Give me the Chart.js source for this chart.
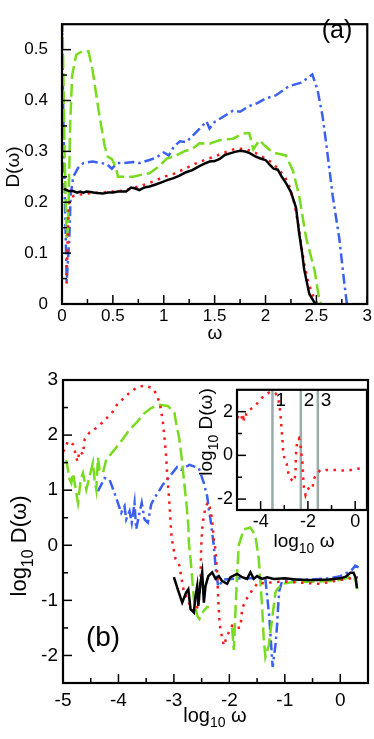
<!DOCTYPE html>
<html>
<head>
<meta charset="utf-8">
<script src="https://cdn.jsdelivr.net/npm/chart.js"></script>
<style>
  html, body { margin: 0; padding: 0; background: #fff; }
  #wrap { position: relative; width: 374px; height: 739px; }
  canvas { position: absolute; }
</style>
</head>
<body>
<div id="wrap">
  <canvas id="chartA" width="374" height="345" style="left:0;top:0"></canvas>
  <canvas id="chartB" width="374" height="379" style="left:0;top:360px"></canvas>
  <canvas id="chartInset" width="184" height="185" style="left:190px;top:375px"></canvas>
</div>
<script>
// panel (a): D(omega)
const blackAX = [0.02, 0.03, 0.07, 0.11, 0.15, 0.18, 0.21, 0.24, 0.28, 0.31, 0.35, 0.40, 0.45, 0.50, 0.55, 0.60, 0.63, 0.68, 0.72, 0.76, 0.81, 0.86, 0.92, 0.99, 1.04, 1.09, 1.15, 1.22, 1.28, 1.35, 1.40, 1.45, 1.50, 1.55, 1.60, 1.65, 1.70, 1.75, 1.80, 1.85, 1.90, 1.95, 2.00, 2.05, 2.08, 2.12, 2.16, 2.20, 2.25, 2.30, 2.33, 2.36, 2.38, 2.43, 2.48, 2.50];
const blackAY = [0.227, 0.225, 0.222, 0.222, 0.219, 0.221, 0.219, 0.221, 0.220, 0.219, 0.218, 0.217, 0.219, 0.219, 0.221, 0.221, 0.221, 0.229, 0.227, 0.224, 0.229, 0.231, 0.235, 0.240, 0.244, 0.247, 0.252, 0.259, 0.263, 0.271, 0.276, 0.280, 0.281, 0.285, 0.293, 0.296, 0.299, 0.301, 0.300, 0.296, 0.290, 0.286, 0.283, 0.272, 0.266, 0.264, 0.250, 0.238, 0.220, 0.189, 0.140, 0.100, 0.068, 0.020, 0.003, 0];
const redAX = [0.045, 0.055, 0.065, 0.08, 0.12, 0.2, 0.3, 0.4, 0.5, 0.6, 0.7, 0.8, 0.9, 1.0, 1.1, 1.2, 1.3, 1.4, 1.5, 1.6, 1.7, 1.8, 1.9, 2.0, 2.07, 2.14, 2.19, 2.235, 2.28, 2.32, 2.35, 2.38, 2.41, 2.45, 2.48, 2.51];
const redAY = [0.04, 0.12, 0.19, 0.208, 0.213, 0.216, 0.218, 0.219, 0.221, 0.223, 0.228, 0.234, 0.241, 0.250, 0.256, 0.265, 0.275, 0.283, 0.290, 0.298, 0.305, 0.305, 0.297, 0.286, 0.277, 0.262, 0.250, 0.231, 0.200, 0.159, 0.116, 0.080, 0.050, 0.025, 0.010, 0];
const greenAX = [0.005, 0.025, 0.045, 0.06, 0.08, 0.1, 0.14, 0.2, 0.26, 0.3, 0.36, 0.42, 0.45, 0.49, 0.53, 0.55, 0.6, 0.7, 0.8, 0.86, 0.95, 1.03, 1.1, 1.2, 1.28, 1.35, 1.45, 1.55, 1.68, 1.78, 1.84, 1.88, 1.94, 2.0, 2.07, 2.2, 2.27, 2.33, 2.4, 2.48, 2.53, 2.55];
const greenAY = [0.56, 0.30, 0.13, 0.15, 0.35, 0.45, 0.49, 0.497, 0.497, 0.46, 0.38, 0.31, 0.289, 0.285, 0.268, 0.25, 0.25, 0.25, 0.255, 0.257, 0.27, 0.286, 0.29, 0.30, 0.305, 0.316, 0.315, 0.322, 0.325, 0.335, 0.336, 0.304, 0.322, 0.31, 0.298, 0.292, 0.262, 0.213, 0.129, 0.068, 0.007, 0];
const blueAX = [0.0, 0.013, 0.03, 0.046, 0.072, 0.085, 0.11, 0.16, 0.21, 0.3, 0.36, 0.44, 0.49, 0.54, 0.6, 0.7, 0.76, 0.86, 0.93, 1.0, 1.05, 1.1, 1.16, 1.22, 1.28, 1.35, 1.42, 1.45, 1.5, 1.6, 1.68, 1.75, 1.84, 1.92, 2.0, 2.1, 2.23, 2.35, 2.46, 2.51, 2.56, 2.6, 2.66, 2.725, 2.775, 2.8];
const blueAY = [0.56, 0.37, 0.19, 0.044, 0.129, 0.213, 0.25, 0.268, 0.277, 0.28, 0.278, 0.275, 0.266, 0.277, 0.277, 0.279, 0.277, 0.283, 0.288, 0.298, 0.292, 0.31, 0.32, 0.318, 0.33, 0.344, 0.359, 0.345, 0.358, 0.37, 0.38, 0.378, 0.389, 0.395, 0.404, 0.41, 0.428, 0.435, 0.451, 0.422, 0.37, 0.31, 0.213, 0.129, 0.04, 0.0];

// panel (b): log10 D vs log10 omega
const blackBX = [-3.0, -2.93, -2.85, -2.78, -2.74, -2.7, -2.64, -2.61, -2.58, -2.56, -2.52, -2.49, -2.46, -2.43, -2.38, -2.31, -2.25, -2.19, -2.13, -2.04, -1.98, -1.86, -1.77, -1.68, -1.62, -1.56, -1.5, -1.41, -1.32, -1.2, -1.0, -0.8, -0.6, -0.4, -0.2, 0.0, 0.1, 0.18, 0.24, 0.28, 0.3];
const blackBY = [-0.58, -0.8, -1.04, -0.86, -0.8, -1.16, -1.22, -0.92, -0.74, -1.1, -0.67, -0.49, -1.04, -0.74, -0.56, -0.49, -0.61, -0.56, -0.65, -0.7, -0.58, -0.52, -0.58, -0.61, -0.49, -0.61, -0.56, -0.61, -0.58, -0.61, -0.6, -0.62, -0.63, -0.63, -0.62, -0.6, -0.57, -0.5, -0.5, -0.6, -0.78];
const redBX = [-5.0, -4.97, -4.91, -4.82, -4.78, -4.74, -4.70, -4.64, -4.61, -4.52, -4.40, -4.30, -4.19, -4.10, -4.01, -3.90, -3.80, -3.66, -3.53, -3.38, -3.30, -3.25, -3.20, -3.17, -3.14, -3.12, -3.09, -3.07, -3.05, -3.02, -2.97, -2.90, -2.87, -2.82, -2.76, -2.67, -2.60, -2.55, -2.52, -2.51, -2.49, -2.46, -2.42, -2.38, -2.33, -2.30, -2.28, -2.25, -2.24, -2.22, -2.20, -2.18, -2.16, -2.13, -2.10, -2.04, -1.95, -1.89, -1.80, -1.77, -1.71, -1.65, -1.57, -1.47, -1.35, -1.23, -1.0, -0.7, -0.37, 0.0, 0.32];
const redBY = [1.70, 1.74, 1.89, 1.83, 1.68, 1.52, 1.71, 1.65, 1.92, 2.05, 2.13, 2.22, 2.33, 2.43, 2.58, 2.67, 2.77, 2.87, 2.90, 2.85, 2.71, 2.55, 2.25, 1.95, 1.61, 1.25, 0.89, 0.59, 0.23, 0.0, -0.25, -0.37, -0.56, -0.85, -0.98, -1.16, -1.21, -1.0, -0.67, -0.07, 0.3, 0.55, 0.72, 0.78, 0.6, 0.35, 0.08, -0.07, -0.22, -0.5, -1.0, -1.34, -1.55, -1.67, -1.82, -1.64, -1.46, -1.51, -1.49, -1.16, -1.0, -0.92, -0.78, -0.67, -0.7, -0.67, -0.66, -0.68, -0.7, -0.63, -0.58];
const greenBX = [-4.94, -4.91, -4.88, -4.85, -4.82, -4.78, -4.73, -4.68, -4.64, -4.58, -4.52, -4.46, -4.43, -4.40, -4.37, -4.34, -4.28, -4.22, -4.10, -3.95, -3.80, -3.68, -3.53, -3.41, -3.26, -3.11, -2.99, -2.96, -2.90, -2.85, -2.82, -2.77, -2.74, -2.73, -2.70, -2.67, -2.64, -2.58, -2.54, -2.47, -2.40, -2.37, -2.3, -1.95, -1.92, -1.89, -1.86, -1.83, -1.74, -1.62, -1.53, -1.47, -1.41, -1.38, -1.35, -1.29, -1.23, -1.17, -1.14, -1.05, -0.8, -0.5, -0.2, 0.0, 0.15, 0.22, 0.27, 0.31];
const greenBY = [1.55, 1.37, 1.19, 1.13, 1.31, 1.07, 0.77, 1.19, 1.31, 1.01, 1.25, 1.50, 1.19, 1.01, 1.59, 1.37, 1.31, 1.56, 1.70, 1.89, 2.10, 2.22, 2.40, 2.49, 2.55, 2.53, 2.40, 2.22, 1.92, 1.50, 1.19, 0.71, 0.35, 0.05, -0.25, -0.61, -0.98, -1.28, -1.34, -1.2, -1.12, -1.13, null, -1.5, -1.9, -1.2, -0.5, 0.0, 0.29, 0.32, 0.17, -0.25, -1.1, -1.7, -2.03, -1.82, -1.34, -0.86, -0.8, -0.7, -0.66, -0.66, -0.65, -0.63, -0.58, -0.56, -0.62, -0.8];
const blueBX = [-4.37, -4.25, -4.16, -4.04, -3.98, -3.95, -3.89, -3.86, -3.80, -3.76, -3.71, -3.68, -3.62, -3.58, -3.53, -3.47, -3.41, -3.35, -3.29, -3.20, -3.12, -3.03, -2.94, -2.87, -2.72, -2.55, -2.46, -2.40, -2.37, -2.34, -2.31, -2.28, -2.26, -2.24, -2.2, -2.1, -1.8, -1.5, -1.35, -1.28, -1.22, -1.17, -1.14, -1.12, -1.1, -1.05, -0.8, -0.5, -0.2, 0.0, 0.2, 0.27, 0.33];
const blueBY = [0.98, 1.22, 1.19, 0.86, 0.68, 0.59, 0.71, 0.47, 0.62, 0.41, 0.77, 0.29, 0.59, 0.77, 0.47, 0.41, 0.74, 0.86, 0.95, 1.10, 1.19, 1.31, 1.42, 1.37, 1.46, 1.40, 1.13, 0.89, 0.65, 0.47, 0.23, -0.01, -0.25, -0.49, -0.75, -0.62, -0.6, -0.6, -0.62, -1.3, -2.21, -1.82, -1.46, -1.1, -0.83, -0.65, -0.62, -0.62, -0.6, -0.56, -0.46, -0.37, -0.4];

// inset: vertical markers
const markerX = [-3.5, -2.3, -1.58];
const markerLabels = ['1', '2', '3'];

// tick positions
const aXMajor = [0, 0.5, 1, 1.5, 2, 2.5, 3];
const aXMinor = [0.25, 0.75, 1.25, 1.75, 2.25, 2.75];
const aYMajor = [0, 0.1, 0.2, 0.3, 0.4, 0.5];
const aYMinor = [0.05, 0.15, 0.25, 0.35, 0.45];
const bXMajor = [-5, -4, -3, -2, -1, 0];
const bXMinor = [-4.5, -3.5, -2.5, -1.5, -0.5];
const bYMajor = [-2, -1, 0, 1, 2, 3];
const bYMinor = [-1.5, -0.5, 0.5, 1.5, 2.5];
const iXMajor = [-4, -2, 0];
const iXMinor = [-3, -1];
const iYMajor = [-2, 0, 2];
const iYMinor = [-1, 1];

const FONT = "'Liberation Sans', Arial, sans-serif";
const BLACK = '#000000', RED = '#ff1a1a', GREEN = '#78dc1e', BLUE = '#3a60f0', GRAY = '#9aabab';

function pts(xs, ys) { return xs.map((x, i) => ({ x: x, y: ys[i] })); }

function lineSet(data, color, dash, width) {
  return { data: data, borderColor: color, borderDash: dash, borderWidth: width || 2.5,
    pointRadius: 0, fill: false, tension: 0, spanGaps: false };
}

const fmt = v => String(Math.round(v * 100) / 100);

function axis(min, max, major, size, pad, fontSize) {
  return {
    type: 'linear', min: min, max: max,
    grid: { display: false, drawTicks: false }, border: { display: false },
    afterBuildTicks: s => { s.ticks = major.map(v => ({ value: v })); },
    afterFit: s => { if (s.isHorizontal()) s.height = size; else s.width = size; },
    ticks: { color: '#000', font: { family: FONT, size: fontSize }, padding: pad,
      maxRotation: 0, autoSkip: false, callback: fmt }
  };
}

function drawParts(ctx, parts, x, y, rot, size) {
  const sub = Math.round(size * 0.72);
  ctx.save();
  ctx.translate(x, y);
  ctx.rotate(rot);
  let w = 0;
  parts.forEach(p => { ctx.font = (p.sub ? sub : size) + 'px ' + FONT; w += ctx.measureText(p.t).width; });
  let cx = -w / 2;
  ctx.fillStyle = '#000';
  ctx.textBaseline = 'middle';
  ctx.textAlign = 'left';
  parts.forEach(p => {
    ctx.font = (p.sub ? sub : size) + 'px ' + FONT;
    ctx.fillText(p.t, cx, p.sub ? size * 0.38 : 0);
    cx += ctx.measureText(p.t).width;
  });
  ctx.restore();
}

// frame, inward ticks, titles
const decor = {
  id: 'decor',
  beforeDraw(chart, args, o) {
    if (!o.fillArea) return;
    const a = chart.chartArea, ctx = chart.ctx;
    ctx.save();
    ctx.fillStyle = '#fff';
    ctx.fillRect(a.left, a.top, a.right - a.left, a.bottom - a.top);
    ctx.restore();
  },
  afterDraw(chart, args, o) {
    const ctx = chart.ctx, a = chart.chartArea, x = chart.scales.x, y = chart.scales.y;
    ctx.save();
    ctx.strokeStyle = '#000';
    ctx.lineWidth = 1.5;
    const seg = (x1, y1, x2, y2) => { ctx.beginPath(); ctx.moveTo(x1, y1); ctx.lineTo(x2, y2); ctx.stroke(); };
    o.xMajor.forEach(v => { const p = x.getPixelForValue(v); seg(p, a.bottom, p, a.bottom - 9); });
    o.xMinor.forEach(v => { const p = x.getPixelForValue(v); seg(p, a.bottom, p, a.bottom - 5); });
    o.yMajor.forEach(v => { const p = y.getPixelForValue(v); seg(a.left, p, a.left + 9, p); });
    o.yMinor.forEach(v => { const p = y.getPixelForValue(v); seg(a.left, p, a.left + 5, p); });
    ctx.lineWidth = 2.2;
    ctx.strokeRect(a.left, a.top, a.right - a.left, a.bottom - a.top);
    ctx.restore();
    (o.titles || []).forEach(t => drawParts(ctx, t.parts, t.x, t.y, t.rot || 0, t.size || 20));
    if (o.markers) {
      ctx.save();
      ctx.fillStyle = '#000';
      ctx.font = '19px ' + FONT;
      ctx.textBaseline = 'middle';
      ctx.textAlign = 'left';
      o.markers.forEach((v, i) => ctx.fillText(markerLabels[i], x.getPixelForValue(v) + 3, a.top + 11));
      ctx.restore();
    }
  }
};

const base = { responsive: false, animation: false, devicePixelRatio: 1 };

new Chart(document.getElementById('chartA'), {
  type: 'line',
  data: { datasets: [
    lineSet(pts(blackAX, blackAY), BLACK, [], 2.5),
    lineSet(pts(redAX, redAY), RED, [2.5, 5.5], 2.5),
    lineSet(pts(greenAX, greenAY), GREEN, [13, 5], 2.5),
    lineSet(pts(blueAX, blueAY), BLUE, [10, 4, 2.5, 4], 2.5)
  ] },
  options: Object.assign({}, base, {
    layout: { padding: { left: 0, right: 6, top: 2, bottom: 0 } },
    scales: { x: axis(0, 3, aXMajor, 41, 2, 17), y: axis(0, 0.55, aYMajor, 62, 14, 17) },
    plugins: { legend: { display: false }, tooltip: { enabled: false },
      decor: { xMajor: aXMajor, xMinor: aXMinor, yMajor: aYMajor, yMinor: aYMinor,
        titles: [
          { parts: [{ t: 'D(ω)' }], x: 14, y: 167, rot: -Math.PI / 2, size: 19 },
          { parts: [{ t: 'ω' }], x: 215, y: 334, size: 19 },
          { parts: [{ t: '(a)' }], x: 337, y: 31, size: 25 }
        ] } }
  }),
  plugins: [decor]
});

new Chart(document.getElementById('chartB'), {
  type: 'line',
  data: { datasets: [
    lineSet(pts(blackBX, blackBY), BLACK, [], 2.5),
    lineSet(pts(redBX, redBY), RED, [2.5, 5.5], 2.5),
    lineSet(pts(greenBX, greenBY), GREEN, [13, 5], 2.5),
    lineSet(pts(blueBX, blueBY), BLUE, [10, 4, 2.5, 4], 2.5)
  ] },
  options: Object.assign({}, base, {
    layout: { padding: { left: 0, right: 6, top: 20, bottom: 0 } },
    scales: { x: axis(-5, 0.5, bXMajor, 56, 6, 19), y: axis(-2.5, 3, bYMajor, 63, 5, 19) },
    plugins: { legend: { display: false }, tooltip: { enabled: false },
      decor: { xMajor: bXMajor, xMinor: bXMinor, yMajor: bYMajor, yMinor: bYMinor,
        titles: [
          { parts: [{ t: 'log' }, { t: '10', sub: true }, { t: ' D(ω)' }], x: 20, y: 186, rot: -Math.PI / 2, size: 22 },
          { parts: [{ t: 'log' }, { t: '10', sub: true }, { t: ' ω' }], x: 215, y: 356, size: 20 },
          { parts: [{ t: '(b)' }], x: 103, y: 278, size: 28 }
        ] } }
  }),
  plugins: [decor]
});

const markerSets = markerX.map(v => lineSet([{ x: v, y: -2.5 }, { x: v, y: 3 }], GRAY, [], 2.5));

new Chart(document.getElementById('chartInset'), {
  type: 'line',
  data: { datasets: [lineSet(pts(redBX, redBY), RED, [2.5, 5.5], 2.5)].concat(markerSets) },
  options: Object.assign({}, base, {
    layout: { padding: { left: 0, right: 7, top: 6, bottom: 0 } },
    scales: { x: axis(-5, 0.5, iXMajor, 50, 1, 18), y: axis(-2.5, 3, iYMajor, 47, 4, 18) },
    plugins: { legend: { display: false }, tooltip: { enabled: false },
      decor: { fillArea: true, xMajor: iXMajor, xMinor: iXMinor, yMajor: iYMajor, yMinor: iYMinor,
        markers: markerX,
        titles: [
          { parts: [{ t: 'log' }, { t: '10', sub: true }, { t: ' D(ω)' }], x: 17, y: 57, rot: -Math.PI / 2, size: 19 },
          { parts: [{ t: 'log' }, { t: '10', sub: true }, { t: ' ω' }], x: 114, y: 167, size: 19 }
        ] } }
  }),
  plugins: [decor]
});
</script>
</body>
</html>
